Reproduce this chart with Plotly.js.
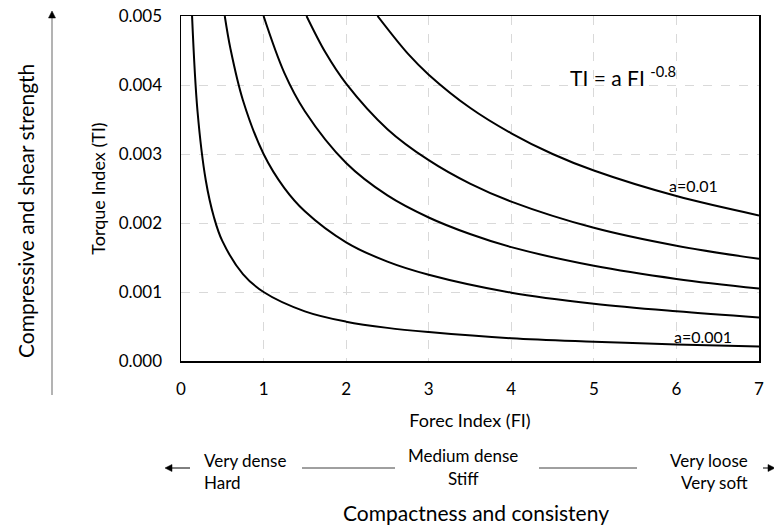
<!DOCTYPE html>
<html>
<head>
<meta charset="utf-8">
<script src="https://cdn.plot.ly/plotly-3.0.1.min.js"></script>
<style>html,body{margin:0;padding:0;background:#fff;}#chart{width:774px;height:529px;}</style>
</head>
<body>
<div id="chart"></div>
<script>
// Curves (Torque Index vs Force Index)
const fi_a0001 = [0.134, 0.2, 0.3, 0.4, 0.5, 0.75, 1, 1.5, 2, 2.5, 3, 4, 5, 6, 7];
const ti_a0001 = [0.0050, 0.00362, 0.00262, 0.00208, 0.00174, 0.00126, 0.00100, 0.00072, 0.00057, 0.00048, 0.00042, 0.00033, 0.00028, 0.00024, 0.00021];

const fi_a0003 = [0.53, 0.6, 0.75, 1, 1.25, 1.5, 2, 2.5, 3, 4, 5, 6, 7];
const ti_a0003 = [0.0050, 0.00452, 0.00378, 0.00300, 0.00251, 0.00217, 0.00172, 0.00144, 0.00125, 0.00099, 0.00083, 0.00072, 0.00063];

const fi_a0005 = [1.0, 1.25, 1.5, 2, 2.5, 3, 3.5, 4, 5, 6, 7];
const ti_a0005 = [0.0050, 0.00418, 0.00362, 0.00287, 0.00240, 0.00208, 0.00184, 0.00165, 0.00138, 0.00119, 0.00105];

const fi_a0007 = [1.52, 1.75, 2, 2.5, 3, 3.5, 4, 5, 6, 7];
const ti_a0007 = [0.0050, 0.00447, 0.00402, 0.00336, 0.00291, 0.00257, 0.00231, 0.00193, 0.00167, 0.00148];

const fi_a001 = [2.38, 2.75, 3, 3.5, 4, 4.5, 5, 6, 7];
const ti_a001 = [0.0050, 0.00445, 0.00415, 0.00367, 0.00330, 0.00300, 0.00276, 0.00239, 0.00211];

const xTicks = [0, 1, 2, 3, 4, 5, 6, 7];
const yTicks = [0, 0.001, 0.002, 0.003, 0.004, 0.005];
const yTickText = ["0.000", "0.001", "0.002", "0.003", "0.004", "0.005"];

const FONT = "Lato, 'Open Sans', sans-serif";
const series = [[fi_a0001, ti_a0001], [fi_a0003, ti_a0003], [fi_a0005, ti_a0005], [fi_a0007, ti_a0007], [fi_a001, ti_a001]];
const traces = series.map(s => ({
  x: s[0], y: s[1], type: 'scatter', mode: 'lines',
  line: {color: '#000', width: 2, shape: 'spline', smoothing: 1},
  hoverinfo: 'skip', showlegend: false, cliponaxis: true
}));

// pixel helpers for paper coordinates (plot area 181..759 x 16..361)
const L = 181, R = 759, T = 16, B = 361;
const px = v => (v - L) / (R - L);
const py = v => (B - v) / (B - T);

const ann = [];
function txt(text, x, y, size, xanchor, angle) {
  ann.push({text: text, xref: 'paper', yref: 'paper', x: px(x), y: py(y), showarrow: false,
    xanchor: xanchor || 'center', yanchor: 'middle', textangle: angle || 0,
    font: {family: FONT, size: size, color: '#000'}});
}
ann.push({text: 'TI = a FI <sup>-0.8</sup>', xref: 'x', yref: 'y', x: 5.35, y: 0.00413, showarrow: false,
  font: {family: FONT, size: 21, color: '#000'}});
ann.push({text: 'a=0.01', xref: 'x', yref: 'y', x: 6.21, y: 0.00255, showarrow: false,
  font: {family: FONT, size: 16, color: '#000'}});
ann.push({text: 'a=0.001', xref: 'x', yref: 'y', x: 6.32, y: 0.00036, showarrow: false,
  font: {family: FONT, size: 16, color: '#000'}});

txt('Compressive and shear strength', 25, 211, 21, 'center', -90);
txt('Very dense', 202, 460, 17, 'left');
txt('Hard', 202, 482, 17, 'left');
txt('Medium dense', 463, 456, 17, 'center');
txt('Stiff', 463, 478, 17, 'center');
txt('Very loose', 750, 460, 17, 'right');
txt('Very soft', 750, 482, 17, 'right');
txt('Compactness and consisteny', 476, 512, 21, 'center');

// arrow heads as small filled triangles (pixel coords -> paper)
function head(x, y, dir) {
  const l = 7, w = 3.5;
  let pts;
  if (dir === 'left') pts = [[x, y], [x + l, y - w], [x + l, y + w]];
  else if (dir === 'right') pts = [[x, y], [x - l, y - w], [x - l, y + w]];
  else pts = [[x, y], [x - w, y + l], [x + w, y + l]];
  const p = 'M ' + pts.map(q => px(q[0]) + ',' + py(q[1])).join(' L ') + ' Z';
  return {type: 'path', xref: 'paper', yref: 'paper', path: p, fillcolor: '#000', line: {color: '#000', width: 0.5}};
}
function seg(x0, y0, x1, y1, color, width) {
  return {type: 'line', xref: 'paper', yref: 'paper', x0: px(x0), x1: px(x1), y0: py(y0), y1: py(y1),
    line: {color: color, width: width}};
}

const shapes = [
  seg(52, 395, 52, 16, '#808080', 1.2), head(52, 11, 'up'),
  seg(190, 468, 170, 468, '#000', 1), head(165, 468, 'left'),
  seg(763, 468, 770, 468, '#000', 1), head(775, 468, 'right'),
  seg(302, 468, 395, 468, '#404040', 1),
  seg(539, 468, 637, 468, '#404040', 1)
];

const layout = {
  width: 774, height: 529,
  margin: {l: L, r: 774 - R, t: T, b: 529 - B, pad: 0},
  paper_bgcolor: '#fff', plot_bgcolor: '#fff',
  font: {family: FONT, color: '#000'},
  showlegend: false,
  xaxis: {
    range: [0, 7], tickvals: xTicks, ticktext: xTicks.map(String),
    showgrid: true, gridcolor: '#d9d9d9', griddash: 'dash', gridwidth: 1,
    showline: true, mirror: true, linecolor: '#000', linewidth: 1.5,
    zeroline: false, ticks: '', ticklabelstandoff: 12,
    tickfont: {family: FONT, size: 17, color: '#000'},
    title: {text: 'Forec Index (FI)', font: {family: FONT, size: 18, color: '#000'}, standoff: 16}
  },
  yaxis: {
    range: [0, 0.005], tickvals: yTicks, ticktext: yTickText,
    showgrid: true, gridcolor: '#d9d9d9', griddash: 'dash', gridwidth: 1,
    showline: true, mirror: true, linecolor: '#000', linewidth: 1.5,
    zeroline: false, ticks: '', ticklabelstandoff: 14,
    tickfont: {family: FONT, size: 17, color: '#000'},
    title: {text: 'Torque Index (TI)', font: {family: FONT, size: 18, color: '#000'}, standoff: 8}
  },
  annotations: ann,
  shapes: shapes
};

Plotly.newPlot('chart', traces, layout, {displayModeBar: false, staticPlot: true});
</script>
</body>
</html>
